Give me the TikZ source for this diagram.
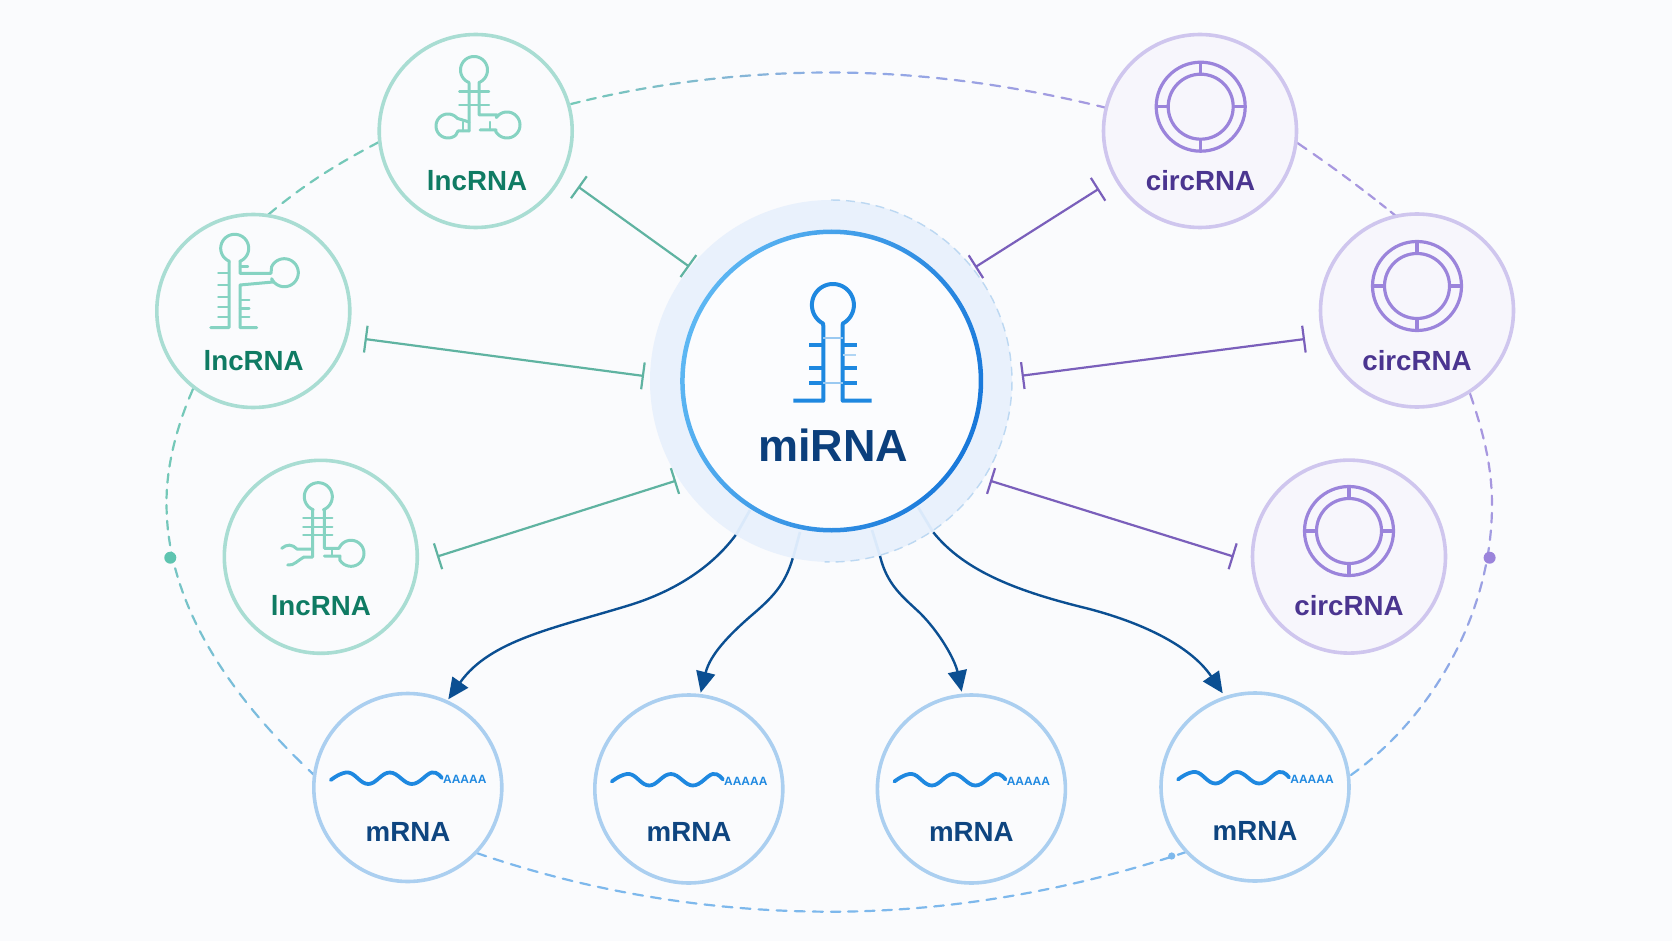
\documentclass[tikz,border=0pt]{standalone}
\usepackage{fontspec}
\setmainfont{Liberation Sans}
\usetikzlibrary{arrows.meta,calc}
\definecolor{bgc}{HTML}{FAFBFD}
\definecolor{haloc}{HTML}{E9F1FC}
\definecolor{haloedge}{HTML}{BCD8F2}
\definecolor{halostreak}{HTML}{DAE9FA}
\definecolor{centerfill}{HTML}{FBFCFE}
\definecolor{ringa}{HTML}{5DB7F3}
\definecolor{ringb}{HTML}{1878DA}
\definecolor{mitext}{HTML}{0B3F7C}
\definecolor{tealline}{HTML}{A9DDD3}
\definecolor{tealicon}{HTML}{86D3C2}
\definecolor{tealtext}{HTML}{0F7B63}
\definecolor{tealtee}{HTML}{5FB3A1}
\definecolor{tealdash}{HTML}{74C8B8}
\definecolor{tealdot}{HTML}{5EC4B0}
\definecolor{purpline}{HTML}{CFC6EE}
\definecolor{purpicon}{HTML}{9B84DB}
\definecolor{purptext}{HTML}{4B3590}
\definecolor{purptee}{HTML}{7A5FBB}
\definecolor{purpdash}{HTML}{A797DF}
\definecolor{purpfill}{HTML}{F7F6FC}
\definecolor{blueline}{HTML}{ABCFF0}
\definecolor{bluedash}{HTML}{7DB8EC}
\definecolor{wavec}{HTML}{1E88E0}
\definecolor{mtext}{HTML}{0E4580}
\definecolor{arrowc}{HTML}{0B4F92}
\tikzset{
  x=1pt,y=-1pt,
  bubble/.style={circle,inner sep=0pt,outer sep=0pt,line width=3.6pt,minimum size=#1},
  lncbub/.style={bubble=193pt,draw=tealline,fill=bgc},
  circbub/.style={bubble=193pt,draw=purpline,fill=purpfill},
  mbub/.style={bubble=188pt,draw=blueline,fill=bgc},
  lbl/.style={anchor=base,inner sep=0pt,outer sep=0pt,font=\bfseries\fontsize{27.7}{30}\selectfont},
  lnclbl/.style={lbl,text=tealtext},
  circlbl/.style={lbl,text=purptext},
  mlbl/.style={lbl,text=mtext},
  alabel/.style={anchor=base,inner sep=0pt,outer sep=0pt,text=wavec,font=\bfseries\fontsize{12}{14}\selectfont},
  lncicon/.style={draw=tealicon,line width=3pt,line cap=round,line join=round},
  circicon/.style={draw=purpicon,line width=3.2pt},
  wavestroke/.style={draw=wavec,line width=3.8pt,line cap=round},
  tee/.style={line width=2.2pt,{Bar[width=27pt,line width=2.2pt]}-{Bar[width=27pt,line width=2.2pt]}},
  teetl/.style={tee,draw=tealtee},
  teepu/.style={tee,draw=purptee},
  curvearrow/.style={draw=arrowc,line width=2.4pt,-{Triangle[length=21pt,width=19pt]}},
  ringdash/.style={line width=2.2pt,line cap=round},
}
\newcommand{\ringpiece}[7]{%
  \foreach \k in {1,...,#5}{%
    \pgfmathsetmacro\pa{(\k-1)/#5}%
    \pgfmathsetmacro\pb{(\k-1+0.55)/#5}%
    \pgfmathtruncatemacro\mixv{100*(\k-1)/(#5)}%
    \colorlet{ringcol}{#7!\mixv!#6}%
    \path (#1) .. controls (#2) and (#3) .. (#4) coordinate[pos=\pa](ua) coordinate[pos=\pb](ub);
    \draw[ringdash,draw=ringcol] (ua) -- (ub);
  }%
}
\newcommand{\circicondraw}[1]{%
  \begin{scope}[shift={(#1)}]
    \draw[circicon] (0,0) circle (44.5);
    \draw[circicon] (0,0) circle (32.5);
    \draw[circicon] (0,-32.5) -- (0,-44.5);
    \draw[circicon] (0,32.5) -- (0,44.5);
    \draw[circicon] (-32.5,0) -- (-44.5,0);
    \draw[circicon] (32.5,0) -- (44.5,0);
  \end{scope}%
}
\newcommand{\mwave}[1]{%
  \begin{scope}[shift={(#1)}]
    \draw[wavestroke] plot[smooth,tension=0.7] coordinates {(-77,-7.5) (-59.5,-15) (-39.5,-3.5) (-18,-15) (4,-3.5) (24,-15) (34,-9.5)};
    \node[alabel] at (57,-4) {AAAAA};
  \end{scope}%
}
\begin{document}
\begin{tikzpicture}
\useasboundingbox (0,0) rectangle (1672,941);
\fill[bgc] (0,0) rectangle (1672,941);

% outer dashed loop
\ringpiece{571,104}{650,84}{740,72.5}{830,72.5}{15}{tealdash}{bluedash!60!purpdash}
\ringpiece{830,72.5}{925,72.5}{1020,86}{1115,110}{16}{bluedash!60!purpdash}{purpdash}
\ringpiece{379,142}{335,165}{300,187}{262,220}{8}{tealdash}{tealdash}
\ringpiece{193,389}{175,430}{166,470}{166.5,505}{7}{tealdash}{tealdash}
\ringpiece{166.5,505}{167,600}{225,695}{325,785}{18}{tealdash}{bluedash}
\ringpiece{476.6,853}{590,892}{710,911.7}{831,911.7}{20}{bluedash}{bluedash}
\ringpiece{831,911.7}{950,911.7}{1075,890}{1195,849}{21}{bluedash}{bluedash}
\ringpiece{1351,775}{1435,715}{1492,610}{1492,505}{18}{bluedash}{purpdash}
\ringpiece{1492,505}{1492,465}{1483,430}{1467,385}{7}{purpdash}{purpdash}
\ringpiece{1396,216}{1370,195}{1335,168}{1290,138}{8}{purpdash}{purpdash}
\fill[tealdot] (170.3,557.7) circle (6);
\fill[purpicon] (1489.6,557.7) circle (6);
\fill[bluedash] (1171.7,856) circle (3.6);

% nodes
\node[circle,inner sep=0pt,outer sep=0pt,minimum size=362pt,fill=haloc] (halo) at (831,381) {};
\draw[haloedge,line width=1.4pt,dash pattern=on 9pt off 6pt] plot[domain=270:452,samples=70] ({831+181*cos(\x)},{381+181*sin(\x)});
\draw[halostreak,line width=2.6pt] (750,510) -- (736,535);
\draw[halostreak,line width=2.6pt] (800,532) -- (793,558);
\draw[halostreak,line width=2.6pt] (872,530) -- (880,556);
\draw[halostreak,line width=2.6pt] (918,507) -- (933,532);
\node[circle,inner sep=0pt,outer sep=0pt,minimum size=298pt,fill=centerfill] (mi) at (831.7,381) {};
\shade[even odd rule,left color=ringa,right color=ringb,shading angle=70]
  (mi.center) circle (151.5) (mi.center) circle (147);

\node[lncbub] (lncA) at (475.7,131) {};
\node[lncbub] (lncB) at (253.3,311) {};
\node[lncbub] (lncC) at (320.8,556.8) {};
\node[circbub] (circA) at (1200,131) {};
\node[circbub] (circB) at (1417,310.5) {};
\node[circbub] (circC) at (1349,556.6) {};
\node[mbub] (mA) at (407.8,787.5) {};
\node[mbub] (mB) at (688.8,789) {};
\node[mbub] (mC) at (971.4,789) {};
\node[mbub] (mD) at (1255,787) {};

% central hairpin
\begin{scope}[draw=wavec,line width=4pt,line join=round]
  \draw[wavec] (793.3,400.7) -- (823.3,400.7) -- (823.3,326) -- plot[domain=118:422,samples=50] ({832.9+21*cos(\x)},{305+21*sin(\x)}) -- (842.7,326) -- (842.7,400.7) -- (871.7,400.7);
  \foreach \yy in {345.3,368.3,382.7}{
    \draw[wavec] (809.3,\yy) -- (823.3,\yy);
    \draw[wavec] (842.7,\yy) -- (856.7,\yy);
  }
  \draw[wavec!45,line width=2pt] (823.3,338) -- (842.7,338);
  \draw[wavec!35,line width=2pt] (842.7,355) -- (856,355);
  \draw[wavec!45,line width=2pt] (823.3,382.7) -- (842.7,382.7);
\end{scope}
\node[anchor=base,inner sep=0pt,outer sep=0pt,text=mitext,font=\bfseries\fontsize{45}{50}\selectfont] (miL) at (833,461.7) {miRNA};

% lncRNA icon A
\draw[lncicon] (469,131) -- (469,83) -- plot[domain=112:428,samples=40] ({474+13.5*cos(\x)},{70+13.5*sin(\x)}) -- (479,83) -- (479,115) -- (497,115) -- plot[domain=215:510,samples=40] ({507+13*cos(\x)},{125+13*sin(\x)}) -- (496,130) -- (480,130);
\draw[lncicon] (469,131) -- (458,131) -- plot[domain=50:320,samples=40] ({448+12*cos(\x)},{126+12*sin(\x)}) -- (469,122);
\draw[lncicon,line width=2.4pt] (459.3,91.7) -- (489,91.7) (459.3,105) -- (489,105) (463,122) -- (463,131) (490,122) -- (490,130);

% lncRNA icon B
\draw[lncicon] (210.7,327.7) -- (229,327.7) -- (229,261) -- plot[domain=112:428,samples=40] ({234.7+14*cos(\x)},{248.3+14*sin(\x)}) -- (240,261) -- (240,273.3) -- (271,273.3) -- plot[domain=205:515,samples=40] ({284.3+14*cos(\x)},{272.7+14*sin(\x)}) -- (273,282) -- (240,285) -- (240,327.7) -- (256.7,327.7);
\foreach \yy in {272.7,285,296.7,306.7,316.7}{\draw[lncicon,line width=2.4pt] (218.3,\yy) -- (229,\yy);}
\foreach \yy in {300,308.3,316.7}{\draw[lncicon,line width=2.4pt] (240,\yy) -- (249.3,\yy);}
\draw[lncicon,line width=2.4pt] (240,266.7) -- (248,266.7);

% lncRNA icon C
\draw[lncicon] (287.7,565) .. controls (294,566) and (298,560) .. (304,557) -- (312.7,557) -- (312.7,510) -- plot[domain=112:428,samples=40] ({318.3+14*cos(\x)},{496.7+14*sin(\x)}) -- (324.3,510) -- (324.3,548.3) -- (339,548.3) -- plot[domain=215:510,samples=40] ({351+13*cos(\x)},{553.3+13*sin(\x)}) -- (340,556) -- (324.3,556);
\draw[lncicon] (312.7,549) -- (297,549) .. controls (292,544) and (287,544) .. (281.7,548.3);
\foreach \yy in {517.7,526.7,535}{\draw[lncicon,line width=2.4pt] (303.3,\yy) -- (332.3,\yy);}
\draw[lncicon,line width=2.4pt] (331.7,549) -- (331.7,556);

% circRNA icons
\circicondraw{$(circA)+(0.7,-24.3)$}
\circicondraw{$(circB)+(0,-24.5)$}
\circicondraw{$(circC)+(0,-25.6)$}

% mRNA waves
\mwave{mA}
\mwave{mB}
\mwave{mC}
\mwave{mD}

% labels
\node[lnclbl] (lncAl) at (477,190.7) {lncRNA};
\node[lnclbl] (lncBl) at (253.7,370) {lncRNA};
\node[lnclbl] (lncCl) at (320.8,615.7) {lncRNA};
\node[circlbl] (circAl) at (1200.5,190.7) {circRNA};
\node[circlbl] (circBl) at (1417,370) {circRNA};
\node[circlbl] (circCl) at (1349,615.7) {circRNA};
\node[mlbl] (mAl) at (408,841) {mRNA};
\node[mlbl] (mBl) at (689,841) {mRNA};
\node[mlbl] (mCl) at (971.4,841) {mRNA};
\node[mlbl] (mDl) at (1255,840) {mRNA};

% inhibition connectors
\coordinate (ta) at (578,186.6);   \coordinate (tb) at (689.3,266.7);
\coordinate (tc) at (364.7,339);   \coordinate (td) at (644,376);
\coordinate (te) at (437,556.6);   \coordinate (tf) at (676,480.7);
\coordinate (tg) at (1099,188.7);  \coordinate (th) at (975,267.3);
\coordinate (ti) at (1305,339);    \coordinate (tj) at (1021.7,375.7);
\coordinate (tk) at (1233.7,556.6);\coordinate (tl) at (990,480.7);
\draw[teetl] (ta) -- (tb);
\draw[teetl] (tc) -- (td);
\draw[teetl] (te) -- (tf);
\draw[teepu] (tg) -- (th);
\draw[teepu] (ti) -- (tj);
\draw[teepu] (tk) -- (tl);

% activation connectors
\coordinate (aa) at (735.7,535);  \coordinate (ab) at (448.3,699.3);
\coordinate (ac) at (792.7,558.3);\coordinate (ad) at (700.7,692.7);
\coordinate (ae) at (880,556);    \coordinate (af) at (961.7,691.7);
\coordinate (ag) at (933.3,532.3);\coordinate (ah) at (1222.7,693.3);
\draw[curvearrow] (aa) .. controls (712,567) and (675,591) .. (630,605) .. controls (555,628) and (490,640) .. (ab);
\draw[curvearrow] (ac) .. controls (785,585) and (772,598) .. (750,616.7) .. controls (728,636) and (710,655) .. (ad);
\draw[curvearrow] (ae) .. controls (887,585) and (903,597) .. (920,613) .. controls (940,633) and (955,660) .. (af);
\draw[curvearrow] (ag) .. controls (965,572) and (1020,592) .. (1086.7,608.3) .. controls (1140,622) and (1190,645) .. (ah);
\end{tikzpicture}
\end{document}
